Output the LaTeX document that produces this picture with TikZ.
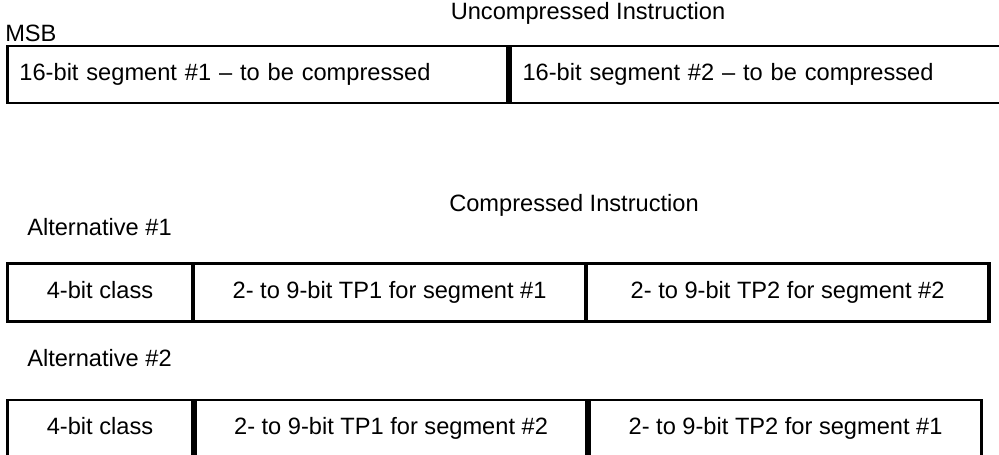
\documentclass[tikz,border=0pt]{standalone}
\usepackage{fontspec}
\setmainfont{Liberation Sans}
\usetikzlibrary{positioning}

\begin{document}
\begin{tikzpicture}[
    x=0.025cm, y=-0.025cm,
    every node/.style={font=\fontsize{16.8}{20}\selectfont},
    label text/.style={inner sep=0pt},
    field/.style={
        draw=black,
        line width=2.1pt,
        minimum height=1.425cm,
        text height=12pt,
        text depth=3.5pt,
        inner sep=0pt
    },
    thin field/.style={field, line width=1.4pt},
    left field/.style={field, align=left, inner xsep=0.3cm}
]
    % fester Rahmen des Bildes
    \useasboundingbox (0,0) rectangle (999,454);
    \clip (0,0) rectangle (999,454);

    % unkomprimierte Instruktion
    \node[label text] (title1) at (588,13) {Uncompressed Instruction};
    \node[label text, anchor=west] (msb) at (5,33) {MSB};
    \node[left field, text width=11.9cm, anchor=north west] (seg1) at (6,44.5)
        {16-bit segment \#1 -- to be compressed};
    \node[left field, text width=11.85cm, anchor=north west] (seg2) at (seg1.north east)
        {16-bit segment \#2 -- to be compressed};

    % komprimierte Instruktion
    \node[label text] (title2) at (574,205) {Compressed Instruction};

    % Alternative 1
    \node[label text, anchor=west] (alt1) at (27,227) {Alternative \#1};
    \node[thin field, minimum width=4.6cm, anchor=north west] (a1class) at (7,263) {4-bit class};
    \node[thin field, minimum width=9.775cm, anchor=north west] (a1tp1) at (a1class.north east)
        {2- to 9-bit TP1 for segment \#1};
    \node[thin field, minimum width=10.025cm, anchor=north west] (a1tp2) at (a1tp1.north east)
        {2- to 9-bit TP2 for segment \#2};
    \draw[line width=2.1pt] (a1class.north west) rectangle (a1tp2.south east);

    % Alternative 2
    \node[label text, anchor=west] (alt2) at (27,358) {Alternative \#2};
    \node[field, minimum width=4.625cm, anchor=north west] (a2class) at (6,398.5) {4-bit class};
    \node[field, minimum width=9.775cm, anchor=north west] (a2tp1) at (a2class.north east)
        {2- to 9-bit TP1 for segment \#2};
    \node[field, minimum width=9.8cm, anchor=north west] (a2tp2) at (a2tp1.north east)
        {2- to 9-bit TP2 for segment \#1};
\end{tikzpicture}
\end{document}
